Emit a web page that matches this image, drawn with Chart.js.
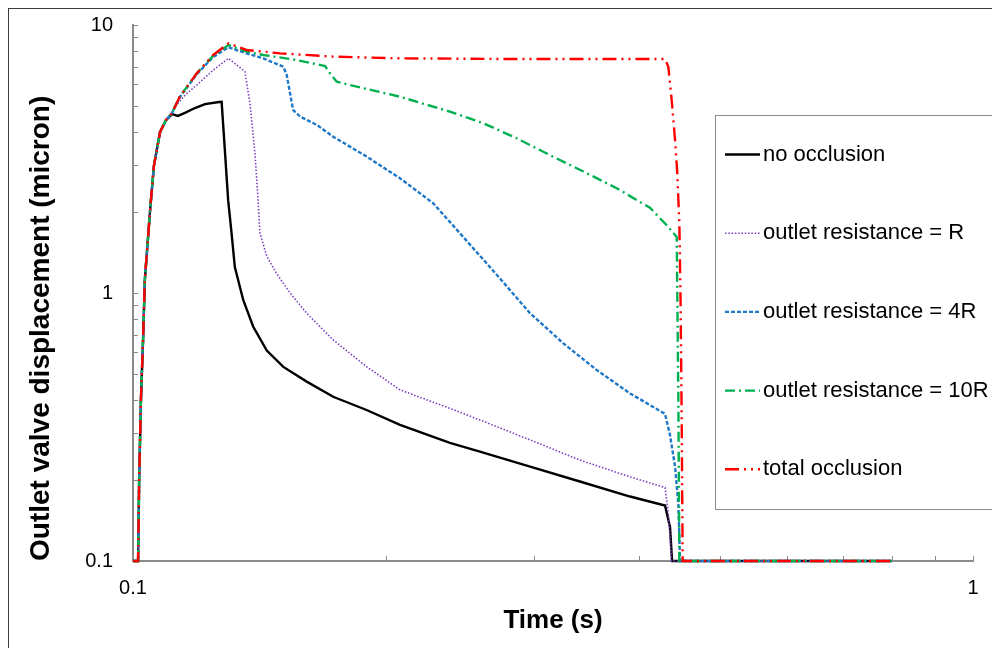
<!DOCTYPE html>
<html>
<head>
<meta charset="utf-8">
<script src="https://cdn.jsdelivr.net/npm/chart.js@4.4.1/dist/chart.umd.min.js"></script>
<style>
html,body{margin:0;padding:0;background:#ffffff;}
canvas{display:block;}
</style>
</head>
<body>
<canvas id="chart" width="992" height="648"></canvas>
<script>
// ---------------- data ----------------
const seriesNames = ['no occlusion', 'outlet resistance = R', 'outlet resistance = 4R', 'outlet resistance = 10R', 'total occlusion'];

const noOcclusionTime = [0.1, 0.1014, 0.1017, 0.1022, 0.1028, 0.1033, 0.1048, 0.1059, 0.1077, 0.1095, 0.1113, 0.1131, 0.1153, 0.1185, 0.1218, 0.1266, 0.1275, 0.1287, 0.1298, 0.1310, 0.1322, 0.1353, 0.1390, 0.1443, 0.1510, 0.1610, 0.1731, 0.1897, 0.2079, 0.2384, 0.2588, 0.2970, 0.3404, 0.3906, 0.4299, 0.4358, 0.4383, 0.8];
const noOcclusionDisp = [0.1, 0.1, 0.20, 0.40, 0.67, 1.12, 2.04, 2.98, 3.99, 4.42, 4.65, 4.58, 4.70, 4.90, 5.07, 5.16, 5.17, 3.33, 2.22, 1.68, 1.25, 0.94, 0.75, 0.61, 0.53, 0.467, 0.410, 0.366, 0.322, 0.276, 0.256, 0.225, 0.198, 0.174, 0.161, 0.134, 0.1, 0.1];

const resistRTime = [0.1, 0.1014, 0.1017, 0.1022, 0.1028, 0.1033, 0.1048, 0.1059, 0.1077, 0.1095, 0.1113, 0.1122, 0.1155, 0.1191, 0.1246, 0.1299, 0.1359, 0.1378, 0.1397, 0.1409, 0.1416, 0.1443, 0.1483, 0.1538, 0.1610, 0.1731, 0.1897, 0.2079, 0.2384, 0.2588, 0.2970, 0.3404, 0.3906, 0.4299, 0.4338, 0.4378, 0.8];
const resistRDisp = [0.1, 0.1, 0.20, 0.40, 0.67, 1.12, 2.04, 2.98, 3.99, 4.42, 4.70, 4.96, 5.50, 5.97, 6.79, 7.51, 6.70, 5.10, 3.32, 2.22, 1.68, 1.37, 1.18, 1.00, 0.84, 0.668, 0.531, 0.435, 0.371, 0.336, 0.283, 0.238, 0.206, 0.188, 0.151, 0.1, 0.1];

const resist4RTime = [0.1, 0.1014, 0.1017, 0.1022, 0.1028, 0.1033, 0.1048, 0.1059, 0.1077, 0.1095, 0.1113, 0.1137, 0.1191, 0.1246, 0.1299, 0.1365, 0.1429, 0.1510, 0.1524, 0.1551, 0.1581, 0.1655, 0.1731, 0.1897, 0.2079, 0.2278, 0.2472, 0.2710, 0.2970, 0.3253, 0.3565, 0.3906, 0.4299, 0.4358, 0.4419, 0.4459, 0.4480, 0.8];
const resist4RDisp = [0.1, 0.1, 0.20, 0.40, 0.67, 1.12, 2.04, 2.98, 3.99, 4.42, 4.70, 5.38, 6.55, 7.60, 8.26, 7.84, 7.51, 6.99, 6.51, 4.82, 4.55, 4.24, 3.83, 3.23, 2.68, 2.16, 1.62, 1.17, 0.84, 0.649, 0.516, 0.422, 0.354, 0.295, 0.225, 0.162, 0.1, 0.1];

const resist10RTime = [0.1, 0.1014, 0.1017, 0.1022, 0.1028, 0.1033, 0.1048, 0.1059, 0.1077, 0.1095, 0.1113, 0.1137, 0.1191, 0.1246, 0.1299, 0.1365, 0.1429, 0.1566, 0.1693, 0.1716, 0.1748, 0.1846, 0.2079, 0.2384, 0.2612, 0.2862, 0.3135, 0.3437, 0.3765, 0.4125, 0.4319, 0.4439, 0.4459, 0.4471, 0.8];
const resist10RDisp = [0.1, 0.1, 0.20, 0.40, 0.67, 1.12, 2.04, 2.98, 3.99, 4.42, 4.70, 5.40, 6.60, 7.68, 8.42, 7.95, 7.73, 7.40, 7.03, 6.60, 6.14, 5.89, 5.40, 4.75, 4.30, 3.78, 3.27, 2.84, 2.46, 2.08, 1.79, 1.62, 0.40, 0.1, 0.1];

const totalOcclusionTime = [0.1, 0.1014, 0.1017, 0.1022, 0.1028, 0.1033, 0.1048, 0.1059, 0.1077, 0.1095, 0.1113, 0.1137, 0.1191, 0.1246, 0.1299, 0.1365, 0.1496, 0.1731, 0.2079, 0.2735, 0.3597, 0.4299, 0.4338, 0.4378, 0.4419, 0.4446, 0.4471, 0.4486, 0.4500, 0.4512, 0.8];
const totalOcclusionDisp = [0.1, 0.1, 0.20, 0.40, 0.67, 1.12, 2.04, 2.98, 3.99, 4.42, 4.70, 5.40, 6.60, 7.73, 8.55, 8.07, 7.84, 7.62, 7.51, 7.47, 7.47, 7.47, 6.99, 5.25, 3.72, 2.80, 1.82, 0.94, 0.336, 0.1, 0.1];

const xTickValues = [0.1, 0.2, 0.3, 0.4, 0.5, 0.6, 0.7, 0.8, 0.9, 1];
const xTickLabels = ['0.1', '', '', '', '', '', '', '', '', '1'];
const yTickValues = [0.1, 0.2, 0.3, 0.4, 0.5, 0.6, 0.7, 0.8, 0.9, 1, 2, 3, 4, 5, 6, 7, 8, 9, 10];
const yTickLabels = ['0.1', '', '', '', '', '', '', '', '', '1', '', '', '', '', '', '', '', '', '10'];

const xTitle = 'Time (s)';
const yTitle = 'Outlet valve displacement (micron)';

// ---------------- build ----------------
const toPoints = (t, d) => t.map((v, i) => ({ x: v, y: d[i] }));
const FONT = '"Liberation Sans", Arial, sans-serif';
const AXIS_COLOR = '#8c8c8c';

const datasets = [
  { label: seriesNames[0], data: toPoints(noOcclusionTime, noOcclusionDisp), borderColor: '#000000', borderWidth: 2.4, borderDash: [], order: 4 },
  { label: seriesNames[1], data: toPoints(resistRTime, resistRDisp), borderColor: '#7a3fbf', borderWidth: 1.6, borderDash: [1.5, 1.8], order: 3 },
  { label: seriesNames[2], data: toPoints(resist4RTime, resist4RDisp), borderColor: '#1f78c8', borderWidth: 2.4, borderDash: [4, 2], order: 2 },
  { label: seriesNames[3], data: toPoints(resist10RTime, resist10RDisp), borderColor: '#00b050', borderWidth: 2.4, borderDash: [10, 4, 2, 4], order: 1 },
  { label: seriesNames[4], data: toPoints(totalOcclusionTime, totalOcclusionDisp), borderColor: '#ff0000', borderWidth: 2.4, borderDash: [14, 5, 2, 5, 2, 5], order: 0 }
].map(ds => Object.assign(ds, { pointRadius: 0, pointHoverRadius: 0, tension: 0, fill: false, clip: false, backgroundColor: ds.borderColor }));

const decorPlugin = {
  id: 'decor',
  beforeDraw(chart) {
    const ctx = chart.ctx;
    ctx.save();
    ctx.fillStyle = '#ffffff';
    ctx.fillRect(0, 0, chart.width, chart.height);
    ctx.restore();
  },
  beforeDatasetsDraw(chart) {
    const { ctx, chartArea: a, scales } = chart;
    ctx.save();
    ctx.strokeStyle = AXIS_COLOR;
    ctx.lineWidth = 1;
    scales.x.ticks.forEach(t => {
      const px = Math.round(scales.x.getPixelForValue(t.value)) + 0.5;
      ctx.beginPath(); ctx.moveTo(px, a.bottom); ctx.lineTo(px, a.bottom - 5); ctx.stroke();
    });
    scales.y.ticks.forEach(t => {
      const py = Math.round(scales.y.getPixelForValue(t.value)) + 0.5;
      ctx.beginPath(); ctx.moveTo(a.left, py); ctx.lineTo(a.left + 5, py); ctx.stroke();
    });
    ctx.restore();
  },
  afterDraw(chart) {
    const ctx = chart.ctx;
    ctx.save();
    // outer frame
    ctx.strokeStyle = '#3c3c3c';
    ctx.lineWidth = 1;
    ctx.strokeRect(8.5, 8.5, 1200, 1200);
    // legend box
    ctx.fillStyle = '#ffffff';
    ctx.fillRect(715.5, 115.5, 300, 394);
    ctx.strokeStyle = AXIS_COLOR;
    ctx.strokeRect(715.5, 115.5, 300, 394);
    chart.data.datasets.forEach((ds, i) => {
      const y = 154.5 + i * 78.7;
      ctx.setLineDash(ds.borderDash || []);
      ctx.strokeStyle = ds.borderColor;
      ctx.lineWidth = ds.borderWidth;
      ctx.beginPath(); ctx.moveTo(725, y); ctx.lineTo(760, y); ctx.stroke();
      ctx.setLineDash([]);
      ctx.fillStyle = '#000000';
      ctx.font = '22px ' + FONT;
      ctx.textBaseline = 'middle';
      ctx.textAlign = 'left';
      ctx.fillText(ds.label, 763, y);
    });
    ctx.restore();
  }
};

new Chart(document.getElementById('chart'), {
  type: 'line',
  data: { datasets },
  options: {
    responsive: false,
    animation: false,
    devicePixelRatio: 1,
    layout: { padding: { left: 0, top: 25, right: 19, bottom: 0 } },
    plugins: { legend: { display: false }, tooltip: { enabled: false } },
    scales: {
      x: {
        type: 'logarithmic',
        min: 0.1, max: 1,
        afterBuildTicks: s => { s.ticks = xTickValues.map(v => ({ value: v })); },
        afterFit: s => { s.height = 87; s.paddingLeft = 0; s.paddingRight = 0; },
        ticks: {
          autoSkip: false, maxRotation: 0, padding: 15, color: '#000000',
          font: { family: FONT, size: 20 },
          callback: (v, i) => xTickLabels[i]
        },
        grid: { display: false, drawTicks: false },
        border: { display: true, color: AXIS_COLOR, width: 2 },
        title: { display: true, text: xTitle, color: '#000000', font: { family: FONT, size: 26, weight: 'bold' }, padding: { top: 0, bottom: 12 } }
      },
      y: {
        type: 'logarithmic',
        min: 0.1, max: 10,
        afterBuildTicks: s => { s.ticks = yTickValues.map(v => ({ value: v })); },
        afterFit: s => { s.width = 133; s.paddingTop = 0; s.paddingBottom = 0; },
        ticks: {
          autoSkip: false, padding: 20, color: '#000000',
          font: { family: FONT, size: 20 },
          callback: (v, i) => yTickLabels[i]
        },
        grid: { display: false, drawTicks: false },
        border: { display: true, color: AXIS_COLOR, width: 2 },
        title: { display: true, text: yTitle, align: 'start', color: '#000000', font: { family: FONT, size: 28, weight: 'bold' }, padding: { top: 24, bottom: 0 } }
      }
    }
  },
  plugins: [decorPlugin]
});
</script>
</body>
</html>
